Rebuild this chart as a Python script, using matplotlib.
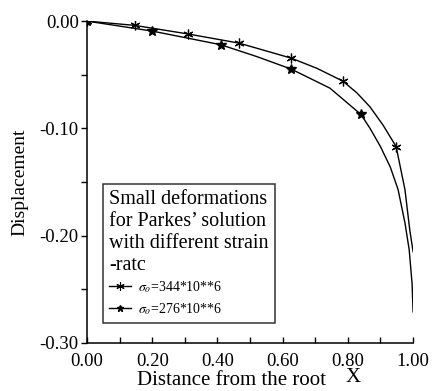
import numpy as np
import matplotlib
matplotlib.use('Agg')
import matplotlib.pyplot as plt

plt.rcParams['font.family'] = ['Liberation Serif', 'DejaVu Serif']
plt.rcParams['mathtext.fontset'] = 'stix'

# 曲线 1: sigma_o = 344*10**6 (位移较小)
x_344 = [0.0, 0.147, 0.31, 0.466, 0.626, 0.705, 0.785, 0.828, 0.868, 0.908, 0.948, 0.975, 0.99, 1.0]
y_344 = [0.0, -0.004, -0.012, -0.0205, -0.0345, -0.044, -0.056, -0.067, -0.080, -0.097, -0.117, -0.157, -0.195, -0.215]
mx_344 = [0.0, 0.147, 0.31, 0.466, 0.626, 0.785, 0.948]
my_344 = [0.0, -0.004, -0.012, -0.0205, -0.0345, -0.056, -0.117]

# 曲线 2: sigma_o = 276*10**6
x_276 = [0.0, 0.20, 0.41, 0.52, 0.626, 0.745, 0.84, 0.868, 0.90, 0.93, 0.954, 0.975, 0.988, 0.997, 1.0]
y_276 = [0.0, -0.0093, -0.022, -0.033, -0.0447, -0.0625, -0.087, -0.100, -0.117, -0.136, -0.157, -0.188, -0.213, -0.245, -0.271]
mx_276 = [0.0, 0.20, 0.41, 0.626, 0.84]
my_276 = [0.0, -0.0093, -0.022, -0.0447, -0.087]

xticks = [0.0, 0.2, 0.4, 0.6, 0.8, 1.0]
yticks = [0.0, -0.1, -0.2, -0.3]

fig = plt.figure(figsize=(4.33, 3.91), dpi=100)
ax = fig.add_axes([0.201, 0.123, 0.753, 0.823])

ax.plot(x_344, y_344, color='black', lw=1.0)
ax.plot(x_276, y_276, color='black', lw=1.0)
ax.plot(mx_344, my_344, ls='none', marker=(6, 2, 0), ms=7, mec='black', mew=0.9)
ax.plot(mx_276, my_276, ls='none', marker='*', ms=7, mfc='black', mec='black')

# 图例句柄
h1, = ax.plot([], [], color='black', lw=1.0, marker=(6, 2, 0), ms=6, mew=0.8,
              label=r'$\sigma_o$=344*10**6')
h2, = ax.plot([], [], color='black', lw=1.0, marker='*', ms=5, mfc='black',
              label=r'$\sigma_o$=276*10**6')

ax.set_xlim(0.0, 1.0)
ax.set_ylim(-0.30, 0.0)
ax.set_xticks(xticks)
ax.set_yticks(yticks)
ax.set_xticks(np.arange(0.1, 1.0, 0.2), minor=True)
ax.set_yticks([-0.05, -0.15, -0.25], minor=True)
ax.set_xticklabels(['%.2f' % v for v in xticks], fontsize=13.5)
ax.set_yticklabels(['%.2f' % v for v in yticks], fontsize=13.5)
ax.tick_params(axis='x', which='both', direction='in', length=4, width=1, pad=7)
ax.tick_params(axis='y', which='both', direction='out', length=4, width=1, pad=2)
for s in ['top', 'right']:
    ax.spines[s].set_visible(False)
for s in ['left', 'bottom']:
    ax.spines[s].set_linewidth(1.1)

ax.set_ylabel('Displacement', fontsize=14)
ax.yaxis.set_label_coords(-0.18, 0.5)
fig.text(0.535, 0.028, 'Distance from the root', fontsize=15, ha='center', va='center')
fig.text(0.815, 0.034, 'X', fontsize=15, ha='center', va='center')

leg = ax.legend(handles=[h1, h2],
                title="Small deformations\nfor Parkes\u2019 solution\nwith different strain\n-ratc",
                loc='lower left', bbox_to_anchor=(0.049, 0.062), borderaxespad=0,
                fontsize=10, title_fontsize=14.5, frameon=True, fancybox=False,
                edgecolor='black', handlelength=1.6, handletextpad=0.5,
                labelspacing=0.45, borderpad=0.45, alignment='left')
leg.get_frame().set_linewidth(1.1)
leg._legend_box.sep = 3

fig.savefig('out.png', dpi=100)
